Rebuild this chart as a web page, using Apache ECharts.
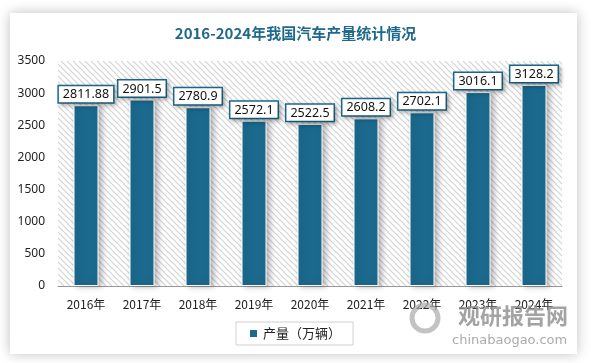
<!DOCTYPE html>
<html><head><meta charset="utf-8">
<script src="https://cdn.jsdelivr.net/npm/echarts@6/dist/echarts.min.js"></script>
<style>html,body{margin:0;padding:0;background:#fff}#c{width:591px;height:363px}</style>
</head><body><div id="c"></div>
<script>
const categories = ['2016年','2017年','2018年','2019年','2020年','2021年','2022年','2023年','2024年'];
const production = [2811.88, 2901.5, 2780.9, 2572.1, 2522.5, 2608.2, 2702.1, 3016.1, 3128.2];
const yTicks = [0, 500, 1000, 1500, 2000, 2500, 3000, 3500];

const pc = document.createElement('canvas');
pc.width = 6; pc.height = 6;
const g = pc.getContext('2d');
g.fillStyle = '#ffffff'; g.fillRect(0,0,6,6);
g.strokeStyle = '#d4d4d4'; g.lineWidth = 1.2;
g.beginPath();
g.moveTo(0,0); g.lineTo(6,6);
g.moveTo(-3,3); g.lineTo(3,9);
g.moveTo(3,-3); g.lineTo(9,3);
g.stroke();

const chart = echarts.init(document.getElementById('c'));
chart.setOption({
  backgroundColor: '#fff',
  animation: false,
  graphic: [
    {type:'rect', z:-10, shape:{x:10,y:13,width:567,height:341}, style:{fill:'#fff', shadowBlur:12, shadowColor:'rgba(0,0,0,0.25)'}},
    {type:'circle', z:10, shape:{cx:425,cy:318,r:13}, style:{fill:'none', stroke:'rgba(170,170,170,0.7)', lineWidth:5}},
    {type:'text', z:10, left:458, top:305, style:{text:'观研报告网', font:'bold 22px "Noto Sans CJK SC"', fill:'rgba(140,140,140,0.8)'}},
    {type:'text', z:10, left:452, top:334, style:{text:'chinabaogao.com', font:'13px "DejaVu Sans"', fill:'rgba(150,150,150,0.8)'}}
  ],
  title: {
    text: '2016-2024年我国汽车产量统计情况',
    left: 'center', top: 21,
    textStyle: {color:'#1f6a8c', fontSize:15, fontWeight:'bold', fontFamily:'"Noto Sans CJK SC"'}
  },
  legend: {
    bottom: 18, left: 236,
    data: ['产量（万辆）'],
    icon: 'rect', itemWidth: 9, itemHeight: 9,
    borderColor: '#d0d0d0', borderWidth: 1, padding: [5, 12],
    textStyle: {fontSize: 13, color:'#222', fontFamily:'"Noto Sans CJK SC"'}
  },
  grid: {
    left: 58, right: 29, top: 61, bottom: 77,
    show: true, borderWidth: 0,
    backgroundColor: {image: pc, repeat: 'repeat'}
  },
  xAxis: {
    type: 'category', data: categories,
    axisLine: {lineStyle:{color:'#999'}},
    axisTick: {show:false},
    axisLabel: {color:'#222', fontSize:12, margin:12, fontFamily:'"Noto Sans CJK SC"'}
  },
  yAxis: {
    type: 'value', min: 0, max: 3500, interval: 500,
    axisLine: {show:false}, axisTick:{show:false},
    splitLine: {show:false},
    axisLabel: {color:'#222', fontSize:12, margin:13, fontFamily:'"Noto Sans"',
      formatter: v => yTicks.includes(v) ? String(v) : ''}
  },
  series: [{
    name: '产量（万辆）', type: 'bar', data: production, barWidth: 25,
    itemStyle: {color:'#1b6a8e', borderColor:'#fff', borderWidth:1,
      shadowBlur:6, shadowColor:'rgba(0,0,0,0.3)', shadowOffsetX:3, shadowOffsetY:0},
    label: {
      show: true, position: 'top', distance: 3,
      formatter: p => String(production[p.dataIndex]),
      color:'#111', fontSize:12.5, fontFamily:'"Noto Sans"',
      backgroundColor:'#fff', borderColor:'#1b6a8e', borderWidth:1.5,
      padding:[2,4,1,4],
      shadowBlur:4, shadowColor:'rgba(0,0,0,0.25)', shadowOffsetX:2, shadowOffsetY:2
    }
  }]
});
</script></body></html>
